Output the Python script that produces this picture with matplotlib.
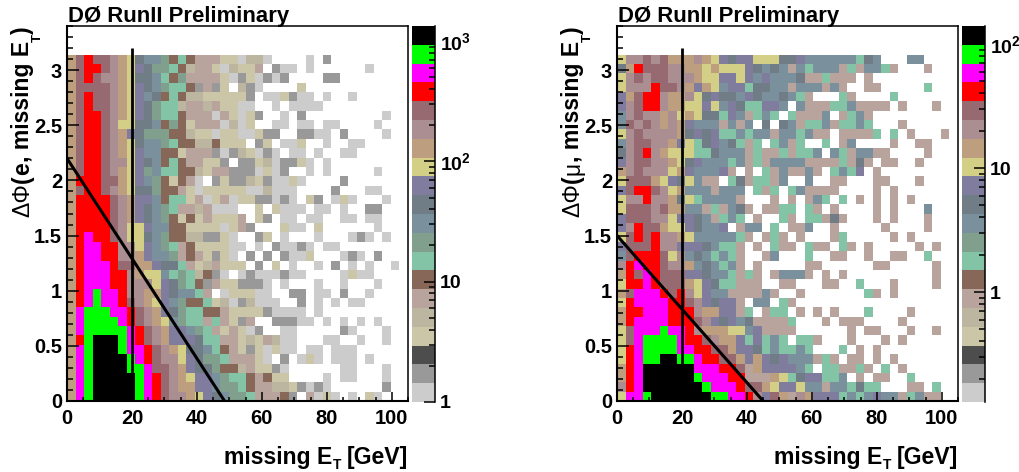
import numpy as np
import matplotlib
matplotlib.use('Agg')
import matplotlib.pyplot as plt
from matplotlib.colors import ListedColormap, LogNorm
from matplotlib.ticker import LogLocator, MultipleLocator

plt.rcParams['font.family'] = ['Liberation Sans', 'DejaVu Sans']
plt.rcParams['font.weight'] = 'bold'
plt.rcParams['mathtext.fontset'] = 'custom'
plt.rcParams['mathtext.rm'] = 'Liberation Sans:bold'
plt.rcParams['mathtext.it'] = 'Liberation Sans:bold'
plt.rcParams['mathtext.bf'] = 'Liberation Sans:bold'

W, H = 1019, 472

# colour level of each bin, top row first: a (lowest) ... t (highest), . = empty
levels = 'abcdefghijklmnopqrst'
left_rows = [
    "npqpponmkjjighgfffddaeea....a.b",
    "npqqponmlkiihgeffdaeddf.baa.a......a",
    "npqpoonmkkjhgiffffdabdabab....bb",
    "npppponmlkjihhgbfbd.eba....d",
    "npqpponmljkghgeedddddb.aadbaa.a..a",
    "npqpponmlkihheffefddaa..a.aaaa",
    "npqqponmlkihhgfffafdadb..a.b.........a",
    "npqqpommkkjgigdfffaead..aa.aa.aa....a",
    "npqqponlkiiiggeddaddaadbb..bbaa.b....a",
    "npqqponmkjjihggeegddd.bd.aad..a..aa",
    "npqqponmljjggdfffbabedaba.aa.a..aa",
    "npqqpoomlkjghgffddb.bbdeabbda.a",
    "npqqponmlijhhggedffbbbadab..a.a.....a",
    "nqqqppnmljigdgfa.bdbbedbaada....b",
    "npqqponmkkiggfdadddddaaeaaa....b...aa",
    "nqqqqponlljghhdfadfaddbbaba.db.ada...a",
    "nqqqqponlkjihffefaaa..d.daaa.aa.a..bb",
    "nqqqqponlkjigdgdfdddf.db.aa.aa..aa.aa",
    "nqqqqpommljjggddddadfb...daa.d......a",
    "nqrqqpommkjiggeebbda..bd.a...a...aba.a",
    "nqrrqqoomljihfgddddaa.a.baaba.aa",
    "nqrrqqoonljjifgfdbda.b.b.baad...aba.b",
    "nqrrrqppnnlkkhfdefddd.b.d.a..a.b.a.a..a",
    "nqrrrqqonmmjhihegba.abaaabaa....adaa",
    "nqrrrqqooomlkihgbfddbbba.a...a..a...a",
    "nqrsrrqoonnlkjjhf.adddaa..bb.aa.b..a",
    "nqrsrrqponmljigghdeabeaaa..b.a.a.aa",
    "nrsssrrqponlkihhggfddddbaaaa.a",
    "nrssssrqponmjihhfhfdbf..bbbaa.a.a.a.a",
    "nrsssssrqponlljihfdfdab..aa.....ba...a",
    "nqstttsrqponlllkhhffdedfeaa...aa..a..a",
    "nrstttsrrqponmkkjhgfdbdadaa.aa.aaa",
    "nrsttttsrqpoomlkiihfffda.b.ada.aaa.a",
    "nrsttttssrpponlkkiggefddba......aa...a",
    "nrstttttsrqponmlljihhgfgdd....a.aa...a",
    "nrstttttsrqponnlljiihgffeedbaba......b",
    "nrstttttsrqpoonmlkjiihfffgb.fada.a.da",
]
right_rows = [
    "moopopnnnonmlkllmmmkkljjjjjjhkj...jj",
    "knqpppoonnmnmmmlkjkjfjhjjjfhfjjhf...f",
    "mopoppooonmmllmljljjjkffhfff.f",
    "moooqpponlnmjllhkkjjfjjjfjf..ff.....h",
    "lnpqqonnomklkkjlkjjkjhf...hf....h",
    "lopqqonnmmlmjlkhhllj.jfffhhjffff.f...f",
    "jopoonomnmkkhljfhjh.hfffj.fhjf",
    "jpopononljjjfjfj.k.kjfhhjfhhjh...f",
    "mopoooonklklhhjhjjfjjhjff.ffffh.h.f...f",
    "joppoonlmhkljkhfh.hjfh..h.fj....f..ff",
    "kopqonmmmhhkjjjfhffhfhhj.jhfjjff....f",
    "loppoonmkljjjhjfhfjjjjffffhfkf.ff..f",
    "nopooomnljjjlf.f.hfjffjf.hjhl.f",
    "mpppnmlkmjff.hkfhhfj..j..ff...ff...f",
    "lpqqpomnjjjfjjj.hfh.hjffff....f.f",
    "mooqoonkmhjjjjf...f.f.fjh.h.f.f.f.f",
    "mpppopnnjjfhfjkf.ffhh.hf.f....f.f...j",
    "lpppoomllkjfhjh.f..hf.hhfkf...f.f...f",
    "loqppnmmlkjjl.fjj.h.ffj..f.....f....f",
    "mpqpqoonmjjjjjhf.fhf.f...fh.....f.f",
    "lpppqoolllkjhhf.f.hff.hff.hf.f.....f.f",
    "jpqqqpmojkjhjhf..fj...h..ff..f..ff..h",
    "oqrqqpoonjkjhjf.f.....ff......ff.....f",
    "nqprqpppllkjjhfhf.fjjjf.f.f..........f",
    "mqqrqpppnmlkhhfff..ff...ff..h...f....f",
    "nprrrqpqomljjffffjf..f.......hf.f",
    "mqrrrrqqpolkllf.jj.hf",
    "nqqrrrqqqonnllfh.fhh.f.f.f...h....f",
    "nqrrrrqqqpolkljkffffh...f.fff....f",
    "mprrrsrrqonnnmmjlffff......f.ff...f..f",
    "mprssssrqqponnlhlhjh.hhf...f...f.f",
    "mqrssssrrqqppnllkhjhhjh...h.f.f",
    "mqrssttssrqqppnlnlkljjjfhf.ff.f.f",
    "nqrttttttrrrqqpfnlllljh.hhffhf.h.f",
    "nqrttttttsrrrqqfffnmhkllhhj.f.ff..h",
    "oqrtttttttsrrrqppnmllmjjfjjhkhh...ff.h",
    "mrrstttttttssrrqolpnfonlllhjhjljjfhjff",
]

palette = ['#cccccc', '#999999', '#4d4d4d', '#cbc6a8', '#bcb5a0', '#b8a49c', '#876757',
           '#84c4a6', '#809f8d', '#7b909d', '#707c86', '#807c9d', '#d3cf87', '#bd9f80',
           '#ab8e92', '#966a70', '#ff0000', '#ff00ff', '#00ff00', '#000000']

left_zrange = (1.0, 1333.0)
right_zrange = (0.13, 140.0)
left_cuts = [(0, 2.2), (48.5, 0)]
right_cuts = [(0, 1.5), (45, 0)]
left_zticks = [1, 10, 100, 1000]
left_zlabels = ['1', '10', r'$\mathbf{10^{2}}$', r'$\mathbf{10^{3}}$']
right_zticks = [1, 10, 100]
right_zlabels = ['1', '10', r'$\mathbf{10^{2}}$']

x_edges = np.linspace(0, 105, 41)
y_edges = np.linspace(0, np.pi, 38)

cmap = ListedColormap(palette)
cmap.set_bad('white')


def rows_to_counts(rows, zrange):
    lo, hi = zrange
    grid = np.full((len(rows), 40), np.nan)
    for i, row in enumerate(rows):
        for j, ch in enumerate(row[:40]):
            if ch != '.':
                grid[i, j] = lo * (hi / lo) ** ((levels.index(ch) + 0.5) / len(levels))
    return np.ma.masked_invalid(grid[::-1])


def put(px, py, s, **kw):
    # text placed by pixel position in the figure
    return fig.text(px / W, 1 - py / H, s, **kw)


def draw_panel(x0, rows, zrange, cut, zticks, zlabels, particle, particle_weight):
    ax = fig.add_axes([x0 / W, 1 - 401 / H, 341 / W, 375 / H])
    norm = LogNorm(vmin=zrange[0], vmax=zrange[1])
    mesh = ax.pcolormesh(x_edges, y_edges, rows_to_counts(rows, zrange), cmap=cmap, norm=norm,
                         antialiased=False, linewidth=0)
    ax.set_xlim(0, 105)
    ax.set_ylim(0, 3.4)

    # cuts
    ax.plot([20, 20], [0, 3.2], color='black', lw=2, solid_capstyle='butt')
    ax.plot([cut[0][0], cut[1][0]], [cut[0][1], cut[1][1]], color='black', lw=2.2)

    ax.xaxis.set_major_locator(MultipleLocator(20))
    ax.xaxis.set_minor_locator(MultipleLocator(5))
    ax.yaxis.set_minor_locator(MultipleLocator(0.1))
    ax.set_yticks([0, 0.5, 1, 1.5, 2, 2.5, 3], ['0', '0.5', '1', '1.5', '2', '2.5', '3'])
    ax.tick_params(axis='x', which='major', direction='in', length=6.5, width=1.1, labelsize=14.5, pad=6)
    ax.tick_params(axis='x', which='minor', direction='in', length=3, width=1.1)
    ax.tick_params(axis='y', which='major', direction='in', length=8.5, width=1.1, labelsize=14.5, pad=3.5)
    ax.tick_params(axis='y', which='minor', direction='in', length=4.3, width=1.1)
    for side in ['left', 'bottom']:
        ax.spines[side].set_linewidth(1.5)
    for side in ['top', 'right']:
        ax.spines[side].set_linewidth(1.1)
    ax.set_zorder(2)

    put(x0 + 1, 22, 'DØ RunII Preliminary', fontsize=15.9, ha='left', va='baseline')

    # x title, pieces placed apart because the T hangs far below the baseline
    put(x0 + 265, 464, 'missing E', fontsize=16.6, ha='right', va='baseline')
    put(x0 + 266, 458, 'T', fontsize=10, ha='left', va='top')
    put(x0 + 341, 464, '[GeV]', fontsize=16.6, ha='right', va='baseline')

    # y title, same idea
    base = x0 - 38
    ykw = dict(fontsize=16.6, rotation=90, rotation_mode='anchor', va='baseline')
    put(base, 34, ')', ha='left', **ykw)
    put(base + 12, 42, 'T', fontsize=9.5, rotation=90, rotation_mode='anchor', va='baseline', ha='left')
    put(base, 41, ', missing E', ha='right', **ykw)
    put(base, 162, particle, ha='right', weight=particle_weight, **ykw)
    put(base, 175, '(', ha='right', **ykw)
    put(base, 183, 'ΔΦ', ha='right', weight='normal', **ykw)

    cax = fig.add_axes([(x0 + 345) / W, 1 - 402 / H, 22.5 / W, 376 / H])
    cb = fig.colorbar(mesh, cax=cax)
    cb.outline.set_visible(False)
    cb.set_ticks(zticks, labels=zlabels)
    cax.yaxis.set_minor_locator(LogLocator(base=10, subs=range(2, 10)))
    cax.yaxis.set_minor_formatter(plt.NullFormatter())
    cax.yaxis.set_ticks_position('right')
    cax.tick_params(which='major', direction='in', length=8, width=1.1, labelsize=14, pad=4)
    cax.tick_params(which='minor', direction='in', length=4, width=1.1)
    cax.spines['right'].set_visible(True)
    cax.spines['right'].set_linewidth(1.1)


fig = plt.figure(figsize=(W / 100, H / 100), dpi=100)
draw_panel(67, left_rows, left_zrange, left_cuts, left_zticks, left_zlabels, 'e', 'bold')
draw_panel(617, right_rows, right_zrange, right_cuts, right_zticks, right_zlabels, 'μ', 'normal')

fig.savefig('out.png', dpi=100)
